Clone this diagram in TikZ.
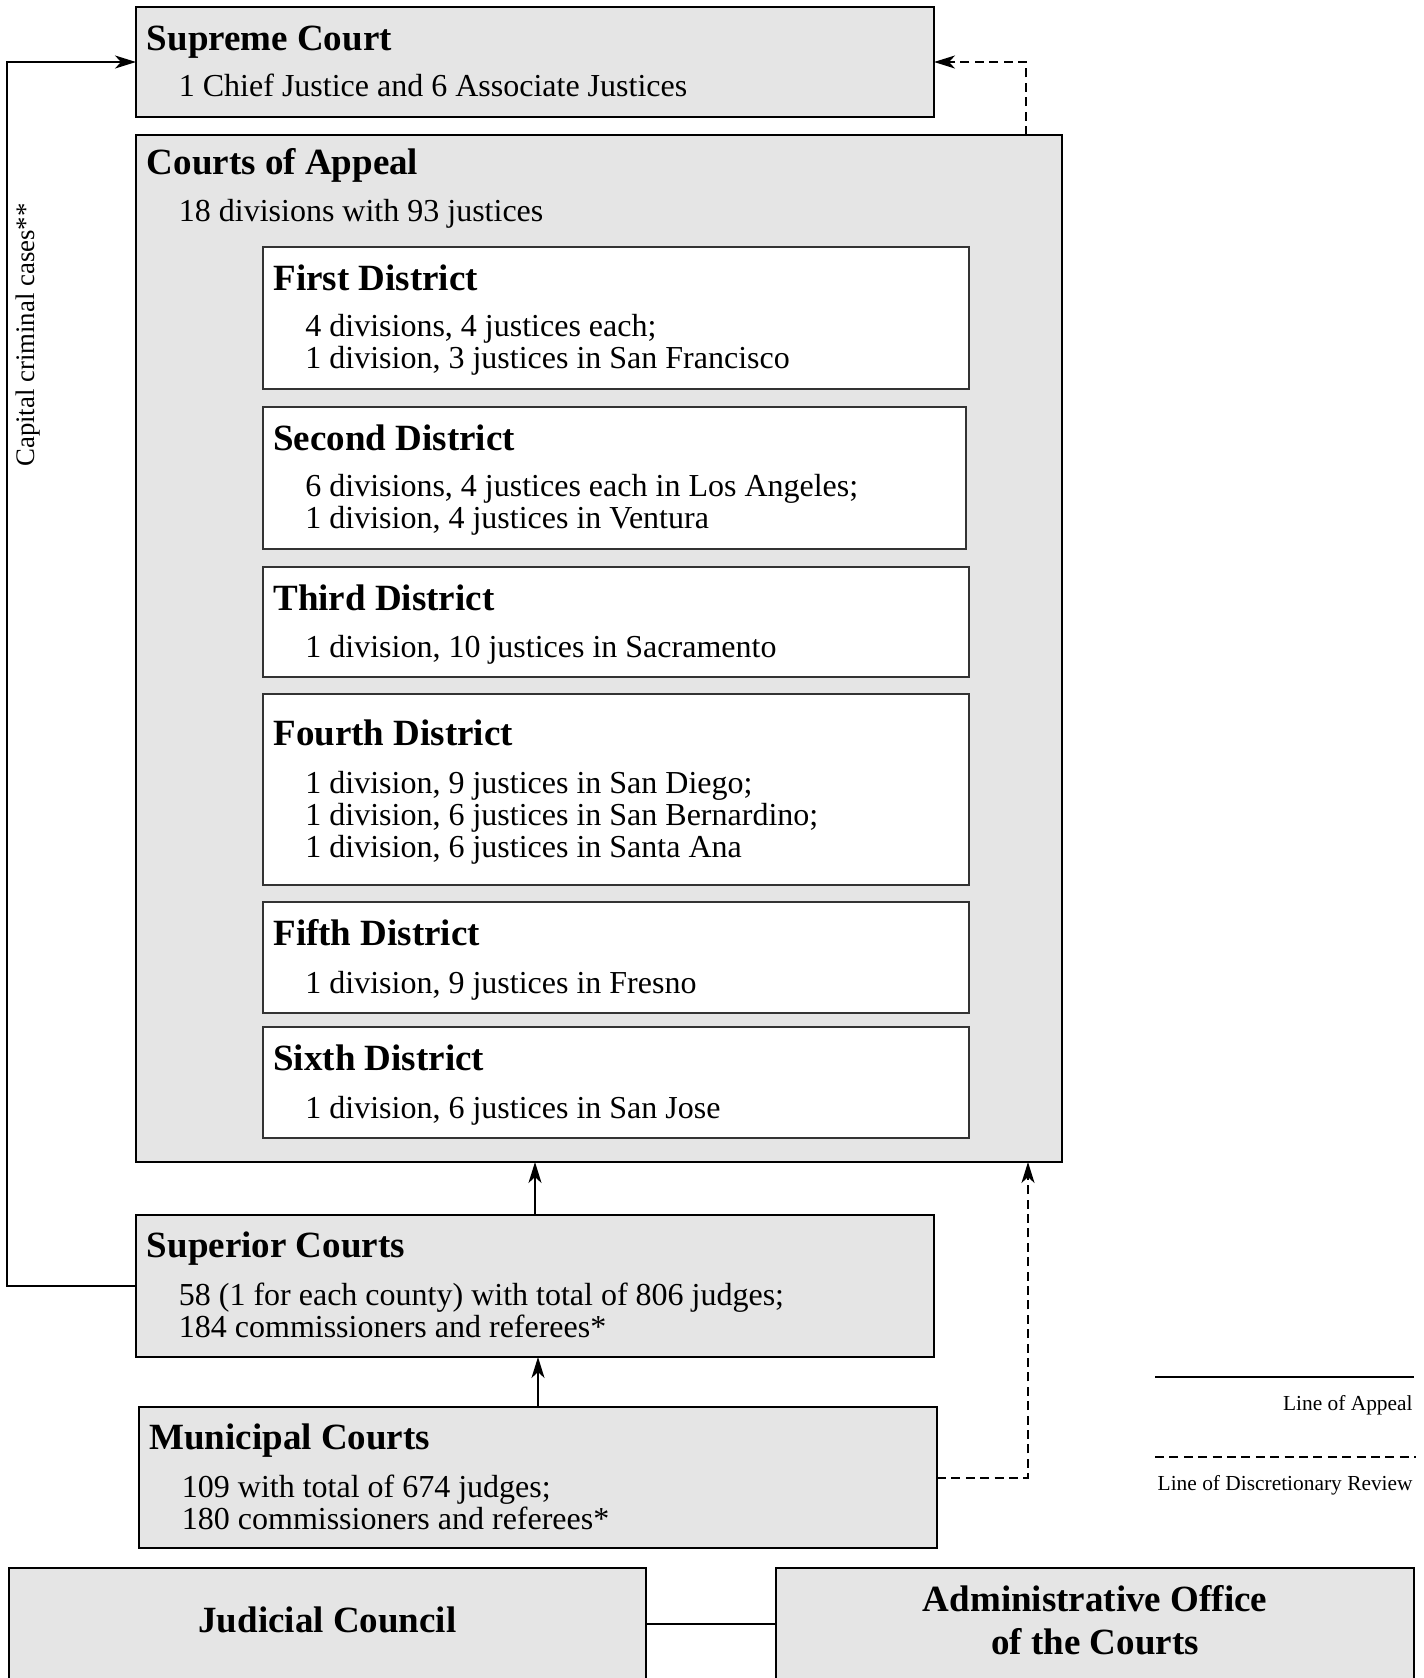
\documentclass[tikz,border=0pt]{standalone}
\usepackage{fontspec}
\setmainfont{Liberation Serif}
\usetikzlibrary{arrows.meta}
\usetikzlibrary{positioning}

\begin{document}
\begin{tikzpicture}[x=0.5pt, y=-0.5pt,
	court/.style = {rectangle, draw, line width=1.1pt, fill=black!10, anchor=north west, inner sep=0pt, outer sep=0pt},
	district/.style = {rectangle, draw=black!80, line width=0.7pt, fill=white, anchor=north west, inner sep=0pt, outer sep=0pt, minimum width=353pt},
	courtname/.style = {anchor=base west, inner sep=0pt, font=\bfseries\fontsize{18.5}{21.5}\selectfont},
	courtinfo/.style = {anchor=base west, inner sep=0pt, align=left, font=\fontsize{16}{16}\selectfont},
	appeal/.style = {line width=1pt, -{Stealth[length=10.5pt, width=6.5pt, inset=3pt]}},
	review/.style = {appeal, dash pattern=on 4.5pt off 2.7pt},
	legendtext/.style = {anchor=base east, inner sep=0pt, font=\fontsize{10.7}{12}\selectfont}]
	\useasboundingbox (0,0) rectangle (1424,1678);
	\clip (0,0) rectangle (1424,1678);

	\node[court, minimum width=399pt, minimum height=55pt] (sup) at (136,7) {};
	\node[courtname] (supN) at (146.5,50) {Supreme Court};
	\node[courtinfo] (supI) at (178.5,96) {1 Chief Justice and 6 Associate Justices};

	\node[court, minimum width=463pt, minimum height=513.5pt] (coa) at (136,135) {};
	\node[courtname] (coaN) at (146.5,174) {Courts of Appeal};
	\node[courtinfo] (coaI) at (178.5,221) {18 divisions with 93 justices};

	\node[district, minimum height=71pt] (first) at (263,247) {};
	\node[district, minimum width=351.5pt, minimum height=71pt, below=9pt of first.south west, anchor=north west] (second) {};
	\node[district, minimum height=55pt, below=9pt of second.south west, anchor=north west] (third) {};
	\node[district, minimum height=95.5pt, below=8.5pt of third.south west, anchor=north west] (fourth) {};
	\node[district, minimum height=55.5pt, below=8.5pt of fourth.south west, anchor=north west] (fifth) {};
	\node[district, minimum height=55.5pt, below=7pt of fifth.south west, anchor=north west] (sixth) {};

	\node[courtname] (firstN) at (273,290) {First District};
	\node[courtinfo] (firstI) at (305,368) {4 divisions, 4 justices each;\\1 division, 3 justices in San Francisco};
	\node[courtname] (secondN) at (273,450) {Second District};
	\node[courtinfo] (secondI) at (305,528) {6 divisions, 4 justices each in Los Angeles;\\1 division, 4 justices in Ventura};
	\node[courtname] (thirdN) at (273,610) {Third District};
	\node[courtinfo] (thirdI) at (305,657) {1 division, 10 justices in Sacramento};
	\node[courtname] (fourthN) at (273,745) {Fourth District};
	\node[courtinfo] (fourthI) at (305,857) {1 division, 9 justices in San Diego;\\1 division, 6 justices in San Bernardino;\\1 division, 6 justices in Santa Ana};
	\node[courtname] (fifthN) at (273,945) {Fifth District};
	\node[courtinfo] (fifthI) at (305,993) {1 division, 9 justices in Fresno};
	\node[courtname] (sixthN) at (273,1070) {Sixth District};
	\node[courtinfo] (sixthI) at (305,1118) {1 division, 6 justices in San Jose};

	\node[court, minimum width=399pt, minimum height=71pt] (superior) at (136,1215) {};
	\node[courtname] (superiorN) at (146.5,1257) {Superior Courts};
	\node[courtinfo] (superiorI) at (178.5,1337) {58 (1 for each county) with total of 806 judges;\\184 commissioners and referees*};

	\node[court, minimum width=399pt, minimum height=70.5pt] (muni) at (139,1407) {};
	\node[courtname] (muniN) at (149,1449) {Municipal Courts};
	\node[courtinfo] (muniI) at (181.5,1529) {109 with total of 674 judges;\\180 commissioners and referees*};

	\node[court, minimum width=318.5pt, minimum height=56pt, align=center, font=\bfseries\fontsize{18.5}{21.5}\selectfont] (jc) at (9,1568) {Judicial Council\vphantom{p}};
	\node[court, minimum width=319pt, minimum height=56pt, align=center, font=\bfseries\fontsize{18.5}{21.5}\selectfont] (aoc) at (776,1568) {Administrative Office\\of the Courts\vphantom{p}};

	\draw[appeal] (superior.north) -- (superior.north |- coa.south);
	\draw[appeal] (muni.north) -- (muni.north |- superior.south);
	\draw[appeal] (superior.west) -- ++(-129,0) |- (sup.west);
	\draw[review] (coa.north east) ++(-36,0) |- (sup.east);
	\draw[review] (muni.east) -| ([xshift=-17pt]coa.south east);
	\draw[line width=1pt] (jc) -- (aoc);

	\node[rotate=90, anchor=base, inner sep=0pt, font=\fontsize{13.4}{14}\selectfont] (capT) at (34,335) {Capital criminal cases**};

	\coordinate (appealA) at (1155,1377);
	\coordinate (appealB) at (1414,1377);
	\coordinate (reviewA) at (1155,1457);
	\coordinate (reviewB) at (1416,1457);
	\draw[line width=1.3pt] (appealA) -- (appealB);
	\draw[line width=1.3pt, dash pattern=on 4.5pt off 2.7pt] (reviewA) -- (reviewB);
	\node[legendtext] (appealT) at (1413,1410) {Line of Appeal};
	\node[legendtext] (reviewT) at (1413,1490) {Line of Discretionary Review};
\end{tikzpicture}
\end{document}
